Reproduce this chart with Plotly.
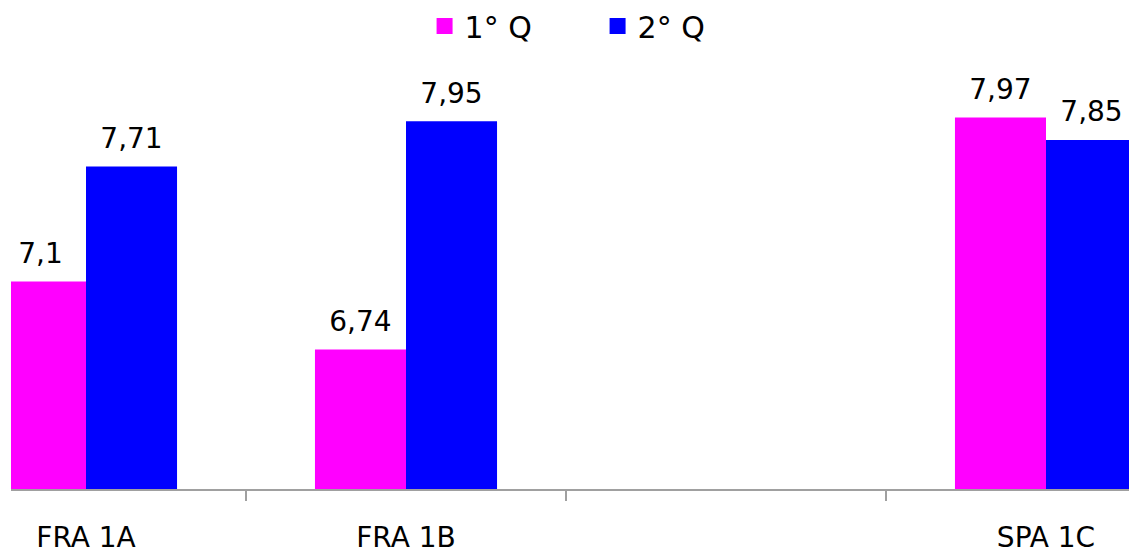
import plotly.graph_objects as go

categories = ["FRA 1A", "FRA 1B", " ", "SPA 1C"]
q1_values = [7.1, 6.74, None, 7.97]
q2_values = [7.71, 7.95, None, 7.85]
q1_labels = ["7,1", "6,74", "", "7,97"]
q2_labels = ["7,71", "7,95", "", "7,85"]
series_names = ["1° Q", "2° Q"]
colors = ["#FF00FF", "#0000FF"]

FONT = "DejaVu Sans"

fig = go.Figure()
for name, vals, labs, col, grp in [
    (series_names[0], q1_values, q1_labels, colors[0], "a"),
    (series_names[1], q2_values, q2_labels, colors[1], "b"),
]:
    fig.add_trace(go.Bar(
        x=categories, y=vals, name=name, marker=dict(color=col, line=dict(width=0)),
        offsetgroup=grp, legendgroup=grp, showlegend=False,
    ))
    fig.add_trace(go.Scatter(
        x=categories, y=vals, mode="markers+text", text=labs,
        textposition="top center", offsetgroup=grp, legendgroup=grp,
        marker=dict(size=17, opacity=0), showlegend=False, hoverinfo="skip",
        textfont=dict(family=FONT, size=28, color="#000000"), cliponaxis=False,
    ))
    # legend entry (square swatch)
    fig.add_trace(go.Scatter(
        x=[None], y=[None], mode="markers", name=name, legendgroup=grp,
        marker=dict(symbol="square", size=16, color=col), showlegend=True,
    ))

fig.update_layout(
    width=1129, height=554,
    margin=dict(l=11, r=0, t=74, b=60),
    paper_bgcolor="white", plot_bgcolor="white",
    barmode="group", scattermode="group", bargap=0.431, bargroupgap=0,
    font=dict(family=FONT, color="#000000"),
    legend=dict(
        orientation="h", xref="container", yref="container",
        x=0.5293, xanchor="center", y=1.0, yanchor="top",
        font=dict(family=FONT, size=30), entrywidth=128, entrywidthmode="pixels",
    ),
    xaxis=dict(
        type="category", range=[-0.234375, 3.259375],
        showline=True, linecolor="#A0A0A0", linewidth=2,
        ticks="outside", tickson="boundaries", ticklen=10, tickcolor="#A0A0A0", tickwidth=2,
        tickfont=dict(family=FONT, size=28, color="#000000"), showgrid=False,
        ticklabelstandoff=22,
    ),
    yaxis=dict(range=[6, 8.2], visible=False, showgrid=False),
)

fig.write_html(
    "out.html",
    config={"displayModeBar": False},
    post_script="document.body.style.margin='0';document.body.style.overflow='hidden';",
)
